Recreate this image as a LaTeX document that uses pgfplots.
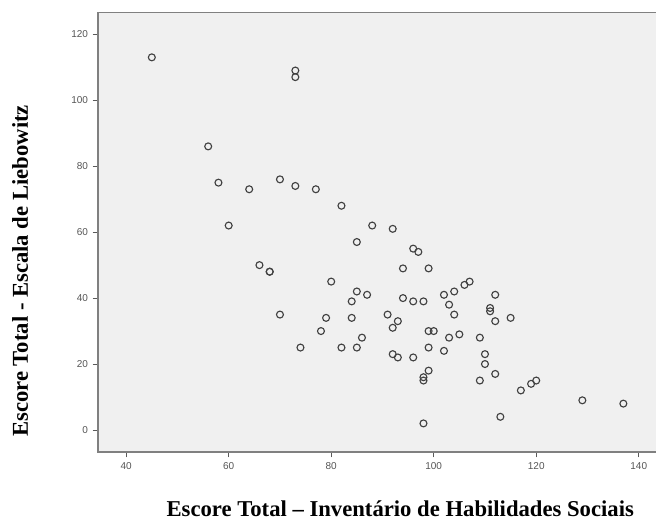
\documentclass[border=0pt]{standalone}
\usepackage{fontspec}
\setmainfont{Liberation Serif}
\setsansfont{Liberation Sans}
\usepackage{pgfplots}
\pgfplotsset{compat=1.18}
\definecolor{bg}{RGB}{240,240,240}
\definecolor{frame}{RGB}{128,128,128}
\definecolor{mk}{RGB}{65,65,65}
\definecolor{tl}{RGB}{85,85,85}
\begin{document}
\begin{tikzpicture}
\begin{axis}[
  scale only axis, width=419pt, height=329.5pt,
  xmin=34.5, xmax=143.5, ymin=-6.67, ymax=126.55,
  axis background/.style={fill=bg},
  axis line style={frame, line width=1.1pt},
  xtick={40,60,...,140}, ytick={0,20,...,120},
  tick align=outside, major tick length=4pt,
  tick style={black!65, line width=0.6pt},
  xtick pos=bottom, ytick pos=left,
  ticklabel style={font=\sffamily\fontsize{7.5}{9}\selectfont, text=tl},
  /pgf/number format/assume math mode=true,
  xlabel={Escore Total – Inventário de Habilidades Sociais},
  ylabel={Escore Total - Escala de Liebowitz},
  xlabel style={at={(rel axis cs:0.541,0)}, anchor=center, yshift=-42.5pt, inner sep=0pt, font=\bfseries\fontsize{17}{20}\selectfont},
  ylabel style={at={([xshift=-58.5pt]rel axis cs:0,0.412)}, anchor=center, font=\bfseries\fontsize{17}{20}\selectfont},
  clip=false,
]
\addplot[only marks, mark=o, mark size=2.6pt, mark options={mk, line width=0.85pt}] table {
x y
45 113
73 109
73 107
56 86
58 75
64 73
70 76
73 74
77 73
82 68
60 62
88 62
92 61
85 57
96 55
97 54
66 50
68 48
68 48
94 49
99 49
80 45
106 44
107 45
85 42
87 41
102 41
104 42
112 41
94 40
96 39
98 39
84 39
103 38
111 37
111 36
70 35
91 35
104 35
79 34
84 34
115 34
93 33
112 33
92 31
78 30
99 30
100 30
105 29
86 28
103 28
109 28
74 25
82 25
85 25
99 25
102 24
92 23
93 22
96 22
110 23
110 20
99 18
112 17
98 16
98 15
109 15
120 15
119 14
117 12
129 9
137 8
113 4
98 2
};
\coordinate (bl) at (rel axis cs:0,0);
\coordinate (tr) at (rel axis cs:1,1);
\end{axis}
\pgfresetboundingbox
\path ([xshift=-73.5pt,yshift=-51pt]bl) rectangle ([xshift=-0.5pt,yshift=9.5pt]tr);
\end{tikzpicture}
\end{document}
